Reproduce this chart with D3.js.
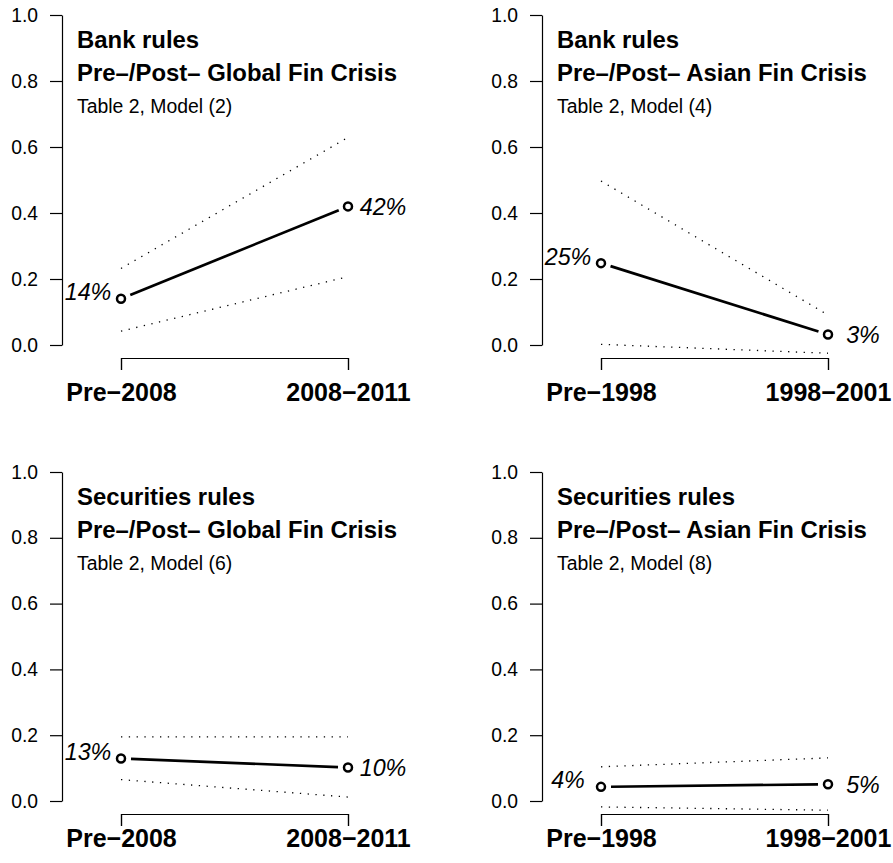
<!DOCTYPE html>
<html>
<head>
<meta charset="utf-8">
<script src="https://cdn.jsdelivr.net/npm/d3@7"></script>
<style>
  body { margin: 0; background: #fff; }
  svg { display: block; font-family: "Liberation Sans", Arial, sans-serif; }
</style>
</head>
<body>
<svg id="chart"></svg>
<script>
// panel texts
const ruleTitles = ["Bank rules", "Bank rules", "Securities rules", "Securities rules"];
const crisisTitles = [
  "Pre\u2013/Post\u2013 Global Fin Crisis",
  "Pre\u2013/Post\u2013 Asian Fin Crisis",
  "Pre\u2013/Post\u2013 Global Fin Crisis",
  "Pre\u2013/Post\u2013 Asian Fin Crisis"
];
const modelNotes = ["Table 2, Model (2)", "Table 2, Model (4)", "Table 2, Model (6)", "Table 2, Model (8)"];
const periods = [
  ["Pre\u22122008", "2008\u22122011"],
  ["Pre\u22121998", "1998\u22122001"],
  ["Pre\u22122008", "2008\u22122011"],
  ["Pre\u22121998", "1998\u22122001"]
];

// estimates and interval bounds (pre, post)
const estimates = [[0.14, 0.42], [0.248, 0.032], [0.129, 0.102], [0.043, 0.051]];
const ciLower   = [[0.042, 0.207], [0.002, -0.025], [0.065, 0.012], [-0.018, -0.028]];
const ciUpper   = [[0.232, 0.629], [0.497, 0.091], [0.195, 0.195], [0.104, 0.131]];

const yTicks = [0, 0.2, 0.4, 0.6, 0.8, 1.0];

const width = 893, height = 863;
const svg = d3.select("#chart").attr("width", width).attr("height", height);

const colShift = [0, 480];
const yRanges = [[345, 15], [801, 472]];
const bracketY = [358, 814];
const labelPad = [13, 3];
const pct = d3.format(".0%");

estimates.forEach((est, i) => {
  const col = i % 2, row = Math.floor(i / 2);
  const dx = colShift[col];

  const x = d3.scalePoint().domain(periods[i]).range([121 + dx, 348 + dx]);
  const y = d3.scaleLinear().domain([0, 1]).range(yRanges[row]);
  const g = svg.append("g");

  // y axis
  const ya = g.append("g")
    .attr("transform", `translate(${62 + dx},0)`)
    .call(d3.axisLeft(y).tickValues(yTicks).tickFormat(d3.format(".1f"))
      .tickSize(12).tickSizeOuter(0).tickPadding(12));
  ya.attr("font-family", null).attr("font-size", 19.3);
  ya.selectAll("path, line").attr("stroke", "#000").attr("stroke-width", 1.2);
  ya.selectAll("text").attr("fill", "#000");

  // x axis bracket
  const xa = g.append("g")
    .attr("transform", `translate(0,${bracketY[row]})`)
    .call(d3.axisBottom(x).tickSize(12).tickSizeOuter(12).tickPadding(labelPad[row]));
  xa.attr("font-family", null).attr("font-size", 25).attr("font-weight", "bold");
  xa.selectAll("path, line").attr("stroke", "#000").attr("stroke-width", 1.2);
  xa.selectAll("text").attr("fill", "#000");

  // headings
  const top = y(1);
  g.append("text").attr("x", 77 + dx).attr("y", top + 33)
    .attr("font-size", 23.9).attr("font-weight", "bold").text(ruleTitles[i]);
  g.append("text").attr("x", 77 + dx).attr("y", top + 66)
    .attr("font-size", 23.9).attr("font-weight", "bold").text(crisisTitles[i]);
  g.append("text").attr("x", 77 + dx).attr("y", top + 98)
    .attr("font-size", 19.4).text(modelNotes[i]);

  // dotted interval lines
  [ciLower[i], ciUpper[i]].forEach(b => {
    g.append("line")
      .attr("x1", x(periods[i][0])).attr("y1", y(b[0]))
      .attr("x2", x(periods[i][1])).attr("y2", y(b[1]))
      .attr("stroke", "#000").attr("stroke-width", 1.3)
      .attr("stroke-dasharray", "1.3 6.5");
  });

  // estimate line with gaps at the points
  const x0 = x(periods[i][0]), y0 = y(est[0]);
  const x1 = x(periods[i][1]), y1 = y(est[1]);
  const len = Math.hypot(x1 - x0, y1 - y0);
  const ux = (x1 - x0) / len, uy = (y1 - y0) / len;
  const gap = 10;
  g.append("line")
    .attr("x1", x0 + ux * gap).attr("y1", y0 + uy * gap)
    .attr("x2", x1 - ux * gap).attr("y2", y1 - uy * gap)
    .attr("stroke", "#000").attr("stroke-width", 2.7);

  g.selectAll("circle.pt")
    .data(est)
    .join("circle")
    .attr("class", "pt")
    .attr("cx", (d, j) => x(periods[i][j]))
    .attr("cy", d => y(d))
    .attr("r", 4)
    .attr("fill", "#fff")
    .attr("stroke", "#000")
    .attr("stroke-width", 2.5);

  // percentage labels
  g.append("text")
    .attr("x", x0 - 33).attr("y", y0 - 7).attr("dy", "0.36em")
    .attr("text-anchor", "middle").attr("font-size", 23.3).attr("font-style", "italic")
    .text(pct(est[0]));
  g.append("text")
    .attr("x", x1 + 35).attr("y", y1).attr("dy", "0.36em")
    .attr("text-anchor", "middle").attr("font-size", 23.3).attr("font-style", "italic")
    .text(pct(est[1]));
});
</script>
</body>
</html>
